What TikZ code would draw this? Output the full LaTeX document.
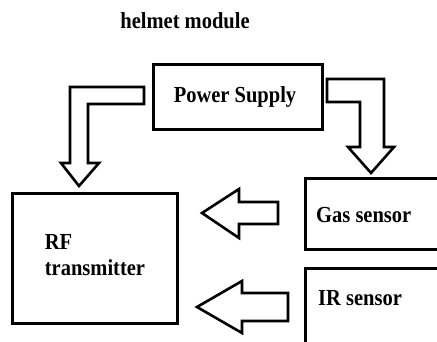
\documentclass[tikz,border=0pt]{standalone}
\usepackage{fontspec}
\setmainfont{Liberation Serif}
\newcommand{\tallTxt}[1]{\scalebox{1}[1.12]{#1}}
\begin{document}
\begin{tikzpicture}[x=1pt,y=-1pt,
  box/.style={draw=black,line width=3pt,inner sep=0pt},
  lbl/.style={font=\fontsize{20.5}{24}\selectfont\bfseries,inner sep=0pt},
  blockarrow/.style={draw=black,line width=2.6pt,fill=white,line join=miter}]
\useasboundingbox (0,0) rectangle (437,341);
\clip (0,0) rectangle (437,341);
\node[lbl] (title) at (185,21) {\tallTxt{helmet module}};
\node[box,minimum width=169pt,minimum height=65pt] (ps) at (237.5,96.5) {};
\node[lbl] (pstext) at (235,97) {\tallTxt{Power Supply}};
\node[box,minimum width=165pt,minimum height=130pt] (rf) at (94.5,258) {};
\node[lbl] (rftext) at (95,257) {\tallTxt{\begin{tabular}{@{}l@{}}RF\\[-1pt]transmitter\end{tabular}}};
\node[box,minimum width=145pt,minimum height=71pt,anchor=north west] (gas) at (304,177) {};
\node[lbl,anchor=west] (gastext) at (316,215.5) {\tallTxt{Gas sensor}};
\node[box,minimum width=145pt,minimum height=90pt,anchor=north west] (ir) at (304,267) {};
\node[lbl,anchor=west] (irtext) at (318,298) {\tallTxt{IR sensor}};
% bent arrow power -> rf
\draw[blockarrow] (144,87) -- (70,87) -- (70,163) -- (61,163) -- (79,186) -- (99,163) -- (88,163) -- (88,104) -- (144,104) -- cycle;
% bent arrow power -> gas
\draw[blockarrow] (327,79) -- (384,79) -- (384,147) -- (394,147) -- (371,173) -- (348,147) -- (360,147) -- (360,102) -- (327,102) -- cycle;
% gas -> rf
\draw[blockarrow] (278,202) -- (239,202) -- (239,189) -- (202,213) -- (239,238) -- (239,224) -- (278,224) -- cycle;
% ir -> rf
\draw[blockarrow] (288,293) -- (242,293) -- (242,281) -- (197,307) -- (242,333) -- (242,321) -- (288,321) -- cycle;
\end{tikzpicture}
\end{document}
